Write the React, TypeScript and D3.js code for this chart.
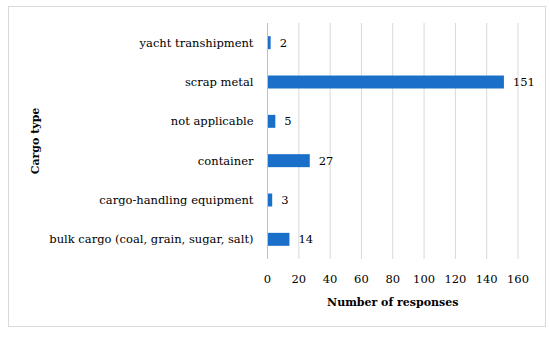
import * as d3 from "d3";
import React, {useEffect, useRef} from "react";

const categories = [
  "yacht transhipment",
  "scrap metal",
  "not applicable",
  "container",
  "cargo-handling equipment",
  "bulk cargo (coal, grain, sugar, salt)",
];
const responses = [2, 151, 5, 27, 3, 14];
const xTicks = [0, 20, 40, 60, 80, 100, 120, 140, 160];

const FONT = "DejaVu Serif";

const App: React.FC = () => {
  const ref = useRef<SVGSVGElement | null>(null);

  useEffect(() => {
    const svg = d3.select(ref.current);
    svg.selectAll('*').remove();

    const width = 550;
    const height = 337;
    const margin = { top: 23, right: 32, bottom: 78, left: 267.5 };

    svg.attr("width", width).attr("height", height);

    // outer frame
    svg.append('rect')
      .attr('x', 8.5).attr('y', 6.5)
      .attr('width', 537).attr('height', 320)
      .attr('fill', 'white')
      .attr('stroke', '#d9d9d9')
      .attr('stroke-width', 1);

    const xScale = d3.scaleLinear()
      .domain([0, 160])
      .range([margin.left, width - margin.right]);

    const yScale = d3.scaleBand<string>()
      .domain(categories)
      .range([margin.top, height - margin.bottom])
      .paddingInner(0.67)
      .paddingOuter(0.335);

    // gridlines
    svg.append('g')
      .selectAll('line')
      .data(xTicks.slice(1))
      .enter()
      .append('line')
      .attr('x1', (d) => xScale(d))
      .attr('x2', (d) => xScale(d))
      .attr('y1', margin.top)
      .attr('y2', height - margin.bottom)
      .attr('stroke', '#d9d9d9')
      .attr('stroke-width', 1);

    // bars
    const data = categories.map((c, i) => ({ c, v: responses[i] }));
    svg.append('g')
      .selectAll('rect')
      .data(data)
      .enter()
      .append('rect')
      .attr('x', xScale(0))
      .attr('y', (d) => yScale(d.c)!)
      .attr('width', (d) => xScale(d.v) - xScale(0))
      .attr('height', yScale.bandwidth())
      .attr('fill', '#1a70c8');

    // value labels
    svg.append('g')
      .selectAll('text')
      .data(data)
      .enter()
      .append('text')
      .attr('x', (d) => xScale(d.v) + 9)
      .attr('y', (d) => yScale(d.c)! + yScale.bandwidth() / 2)
      .attr('dy', '0.35em')
      .attr('font-family', FONT)
      .attr('font-size', 11.5)
      .attr('fill', '#000')
      .text((d) => d.v);

    // y axis line
    svg.append('line')
      .attr('x1', xScale(0)).attr('x2', xScale(0))
      .attr('y1', margin.top).attr('y2', height - margin.bottom)
      .attr('stroke', '#bfbfbf');

    // category labels
    svg.append('g')
      .selectAll('text')
      .data(categories)
      .enter()
      .append('text')
      .attr('x', xScale(0) - 14)
      .attr('y', (d) => yScale(d)! + yScale.bandwidth() / 2)
      .attr('dy', '0.35em')
      .attr('text-anchor', 'end')
      .attr('font-family', FONT)
      .attr('font-size', 11.5)
      .text((d) => d);

    // x tick labels
    svg.append('g')
      .selectAll('text')
      .data(xTicks)
      .enter()
      .append('text')
      .attr('x', (d) => xScale(d))
      .attr('y', 279)
      .attr('dy', '0.35em')
      .attr('text-anchor', 'middle')
      .attr('font-family', FONT)
      .attr('font-size', 11.5)
      .text((d) => d);

    svg.append('text')
      .attr('x', (xScale(0) + xScale(160)) / 2)
      .attr('y', 302)
      .attr('dy', '0.35em')
      .attr('text-anchor', 'middle')
      .attr('font-family', FONT)
      .attr('font-size', 11)
      .attr('font-weight', 'bold')
      .text('Number of responses');

    svg.append('text')
      .attr('transform', `translate(35, ${(margin.top + height - margin.bottom) / 2}) rotate(-90)`)
      .attr('dy', '0.35em')
      .attr('text-anchor', 'middle')
      .attr('font-family', FONT)
      .attr('font-size', 11)
      .attr('font-weight', 'bold')
      .text('Cargo type');

    return () => {
      svg.selectAll('*').remove();
    };
  }, []);

  return <svg ref={ref} style={{position: 'absolute', left: 0, top: 0}} />;
};

export default App;
